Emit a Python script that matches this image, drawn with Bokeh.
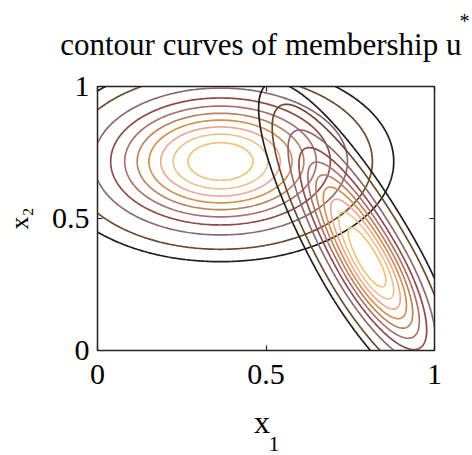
import numpy as np
from bokeh.plotting import figure
from bokeh.models import Range1d, FixedTicker, LinearAxis, Title
from bokeh.embed import file_html
from bokeh.resources import INLINE

# contour levels of the membership and the colour of each level
levels = [0.05, 0.1, 0.2, 0.3, 0.4, 0.5, 0.6, 0.7, 0.8, 0.9]
level_colors = ["#1e1e1e", "#6a4a2a", "#8a6a70", "#8e4a48", "#a87070",
                "#b88460", "#d4904e", "#eea896", "#e8c48e", "#eec47a"]

# cluster 1: axis-aligned membership (centre, spread in x1 and x2)
c1_center = [0.365, 0.716]
c1_sigma = [0.21, 0.155]

# cluster 2: tilted, skewed membership
c2_center = [0.805, 0.34]
c2_major_dir = [0.40, -0.917]      # direction of the long axis (towards lower right)
c2_sigma_major = [0.235, 0.30]     # spread along long axis: lower-right side, upper-left side
c2_sigma_minor = [0.064]

tick_values = [0, 0.5, 1]
tick_labels = ["0", "0.5", "1"]

NBSP = "\u00a0"
HAIR = "\u200a"

n = 201
gx = np.linspace(0, 1, n)
gy = np.linspace(0, 1, n)
X, Y = np.meshgrid(gx, gy)

u1 = np.exp(-0.5 * (((X - c1_center[0]) / c1_sigma[0]) ** 2
                    + ((Y - c1_center[1]) / c1_sigma[1]) ** 2))

dx, dy = X - c2_center[0], Y - c2_center[1]
ma = np.array(c2_major_dir) / np.hypot(*c2_major_dir)
mi = np.array([-ma[1], ma[0]])
a = dx * ma[0] + dy * ma[1]
b = dx * mi[0] + dy * mi[1]
sa = np.where(a > 0, c2_sigma_major[0], c2_sigma_major[1])
u2 = np.exp(-0.5 * ((a / sa) ** 2 + (b / c2_sigma_minor[0]) ** 2))

p = figure(width=472, height=455, output_backend="svg", toolbar_location=None,
           x_range=Range1d(0, 1), y_range=Range1d(0, 1),
           x_axis_location=None, y_axis_location=None,
           min_border_left=97, min_border_right=38,
           min_border_top=86, min_border_bottom=105)
p.xgrid.visible = False
p.ygrid.visible = False
p.outline_line_color = "#222222"
p.outline_line_width = 1.5
p.background_fill_color = "white"
p.border_fill_color = "white"

for field in (u1, u2):
    p.contour(gx, gy, field, levels, line_color=level_colors,
              line_width=1.7, fill_color=None)

serif = "Liberation Serif"
ticker = FixedTicker(ticks=tick_values)

def make_axis(show_labels, standoff=0, label="", label_size="30px", label_standoff=0):
    ax = LinearAxis(ticker=ticker)
    if show_labels:
        ax.major_label_overrides = {v: t for v, t in zip(tick_values, tick_labels)}
    else:
        ax.major_label_overrides = {v: "" for v in tick_values}
    ax.major_tick_in = 5
    ax.major_tick_out = 0
    ax.minor_tick_in = 0
    ax.minor_tick_out = 0
    ax.axis_line_color = "#222222"
    ax.major_tick_line_color = "#222222"
    ax.major_tick_line_width = 1.2
    ax.major_label_text_font = serif
    ax.major_label_text_color = "black"
    ax.major_label_text_font_size = "30px"
    ax.major_label_standoff = standoff
    if label:
        ax.axis_label = label
        ax.axis_label_text_font = serif
        ax.axis_label_text_font_style = "normal"
        ax.axis_label_text_font_size = label_size
        ax.axis_label_text_color = "black"
        ax.axis_label_standoff = label_standoff
    return ax

def title(text, size, align="left", offset=0, standoff=0):
    return Title(text=text, text_font=serif, text_font_size=size,
                 text_font_style="normal", text_color="black",
                 align=align, offset=offset, standoff=standoff)

# below: ticks and "x", then the subscript "1" tucked under it
p.add_layout(make_axis(True, 14, "x" + NBSP, "32px", 17), "below")
p.add_layout(title("1", "22px", offset=171, standoff=-17), "below")

# left: ticks and the rotated "x2" label
p.add_layout(make_axis(True, 8, "x\u2082", "26px", 15), "left")

# above: the plot title rides on the top axis, the asterisk sits just over its end
p.add_layout(make_axis(False, 0, "contour curves of membership u" + NBSP + HAIR, "31px", 25), "above")
p.add_layout(title("*", "20px", offset=362, standoff=-17), "above")

p.add_layout(make_axis(False), "right")

open("out.html", "w").write(file_html(p, INLINE))
